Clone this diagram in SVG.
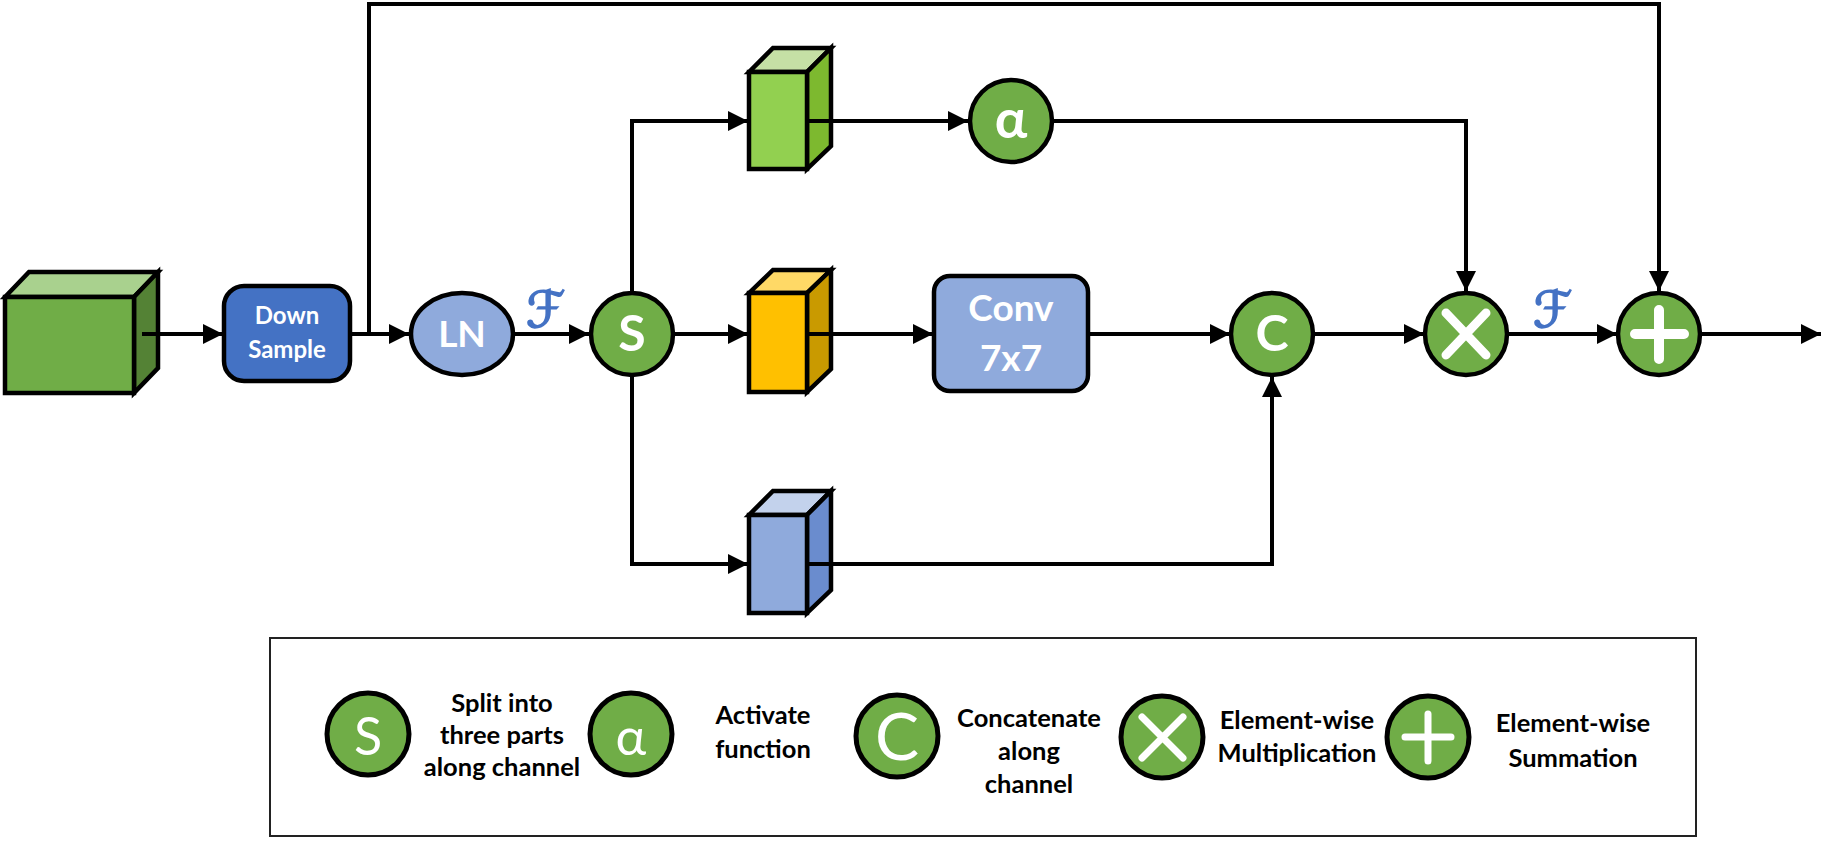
<svg xmlns="http://www.w3.org/2000/svg" width="1823" height="858" viewBox="0 0 1823 858">
<style>
.ln{fill:none;stroke:#000;stroke-width:4;marker-end:url(#ah)}
.ol{stroke:#000;stroke-width:4.5;stroke-linejoin:miter}
.g{fill:#70AD47;stroke:#000;stroke-width:4.5}
.gl{fill:#70AD47;stroke:#000;stroke-width:5}
.wb{font-family:Lato,"Liberation Sans",sans-serif;font-weight:bold;fill:#fff;text-anchor:middle}
.wr{font-family:Lato,"Liberation Sans",sans-serif;fill:#fff;text-anchor:middle}
.lg{font-family:Lato,"Liberation Sans",sans-serif;font-weight:bold;fill:#000;text-anchor:middle;font-size:25.5px}
.f{font-family:"DejaVu Serif","DejaVu Sans",serif;fill:#4472C4;stroke:#4472C4;stroke-width:1.6;font-size:50px;font-style:italic}
.sym{stroke:#fff;stroke-linecap:round;fill:none}
</style>
<defs>
<marker id="ah" markerUnits="userSpaceOnUse" markerWidth="20" markerHeight="20" viewBox="0 0 20 20" refX="20" refY="10" orient="auto">
<path d="M0,0 L20,10 L0,20 z" fill="#000"/>
</marker>
</defs>
<rect width="1823" height="858" fill="#fff"/>

<g id="input-cube" class="ol">
<polygon points="5,297 29,272 158,272 134,297" fill="#A9D18E"/>
<polygon points="134,297 158,272 158,368 134,393" fill="#548235"/>
<rect x="5" y="297" width="129" height="96" fill="#70AD47"/>
</g>

<g id="down-sample">
<rect x="224" y="286" width="126" height="95" rx="20" fill="#4472C4" stroke="#000" stroke-width="4.5"/>
<text class="wb" x="287" y="324" font-size="24">Down</text>
<text class="wb" x="287" y="358" font-size="24">Sample</text>
</g>

<g id="ln">
<ellipse cx="462" cy="334" rx="51" ry="41" fill="#8FAADC" stroke="#000" stroke-width="4.5"/>
<text class="wb" x="462" y="347" font-size="37">LN</text>
</g>

<g id="f-label-1"><text class="f" x="526" y="327">ℱ</text></g>

<g id="split">
<circle class="g" cx="632" cy="334" r="41"/>
<text class="wb" x="632" y="351" font-size="50">S</text>
</g>

<g id="cube-green" class="ol">
<polygon points="749,72 773,48 831,48 807,72" fill="#C5E0A5"/>
<polygon points="807,72 831,48 831,146 807,169" fill="#7DB92F"/>
<rect x="749" y="72" width="58" height="97" fill="#92D050"/>
</g>

<g id="cube-orange" class="ol">
<polygon points="749,293 773,270 831,270 807,293" fill="#FFD966"/>
<polygon points="807,293 831,270 831,369 807,392" fill="#C99A00"/>
<rect x="749" y="293" width="58" height="99" fill="#FFC000"/>
</g>

<g id="cube-blue" class="ol">
<polygon points="749,515 773,491 831,491 807,515" fill="#C3D2EC"/>
<polygon points="807,515 831,491 831,590 807,613" fill="#6A8CCE"/>
<rect x="749" y="515" width="58" height="98" fill="#8FAADC"/>
</g>

<g id="alpha">
<circle class="g" cx="1011" cy="121" r="41"/>
<text class="wb" x="1011" y="138" font-size="54">α</text>
</g>

<g id="conv">
<rect x="934" y="276" width="154" height="115" rx="16" fill="#8FAADC" stroke="#000" stroke-width="4.5"/>
<text class="wb" x="1011" y="321" font-size="37">Conv</text>
<text class="wb" x="1011" y="371" font-size="37">7x7</text>
</g>

<g id="concat">
<circle class="g" cx="1272" cy="334" r="41"/>
<text class="wb" x="1272" y="351" font-size="50">C</text>
</g>

<g id="mult">
<circle class="g" cx="1466" cy="334" r="41"/>
<path class="sym" stroke-width="9" d="M1446,313 L1486,355 M1486,313 L1446,355"/>
</g>

<g id="f-label-2"><text class="f" x="1533" y="327">ℱ</text></g>

<g id="sum">
<circle class="g" cx="1659" cy="334" r="41"/>
<path class="sym" stroke-width="10" d="M1635,334 H1684 M1659,310 V359"/>
</g>

<g id="connectors">
<path class="ln" d="M142,334 H223"/>
<path class="ln" d="M350,334 H409"/>
<path class="ln" d="M369,334 V4 H1659 V291"/>
<path class="ln" d="M514,334 H589"/>
<path class="ln" d="M632,293 V121 H748"/>
<path class="ln" d="M673,334 H748"/>
<path class="ln" d="M632,375 V564 H748"/>
<path class="ln" d="M806,121 H968"/>
<path class="ln" d="M806,334 H933"/>
<path class="ln" d="M806,564 H1272 V377"/>
<path class="ln" d="M1052,121 H1466 V291"/>
<path class="ln" d="M1088,334 H1230"/>
<path class="ln" d="M1313,334 H1424"/>
<path class="ln" d="M1507,334 H1617"/>
<path class="ln" d="M1700,334 H1821"/>
</g>

<g id="legend">
<rect x="270" y="638" width="1426" height="198" fill="none" stroke="#222" stroke-width="2"/>
<g id="legend-s">
<circle class="gl" cx="368" cy="734" r="41"/>
<text class="wr" x="368" y="755" font-size="52">S</text>
<text class="lg" x="502" y="712">Split into</text>
<text class="lg" x="502" y="744">three parts</text>
<text class="lg" x="502" y="776">along channel</text>
</g>
<g id="legend-alpha">
<circle class="gl" cx="631" cy="734" r="41"/>
<text class="wr" x="631" y="755" font-size="52">α</text>
<text class="lg" x="763" y="724">Activate</text>
<text class="lg" x="763" y="758">function</text>
</g>
<g id="legend-c">
<circle class="gl" cx="897" cy="736" r="41"/>
<text class="wr" x="897" y="760" font-size="66">C</text>
<text class="lg" x="1029" y="727">Concatenate</text>
<text class="lg" x="1029" y="760">along</text>
<text class="lg" x="1029" y="793">channel</text>
</g>
<g id="legend-x">
<circle class="gl" cx="1162" cy="737" r="41"/>
<path class="sym" stroke-width="7" d="M1142,717 L1183,758 M1183,717 L1142,758"/>
<text class="lg" x="1297" y="729">Element-wise</text>
<text class="lg" x="1297" y="762">Multiplication</text>
</g>
<g id="legend-plus">
<circle class="gl" cx="1428" cy="737" r="41"/>
<path class="sym" stroke-width="7" d="M1405,737 H1451 M1428,714 V761"/>
<text class="lg" x="1573" y="732">Element-wise</text>
<text class="lg" x="1573" y="767">Summation</text>
</g>
</g>
</svg>
